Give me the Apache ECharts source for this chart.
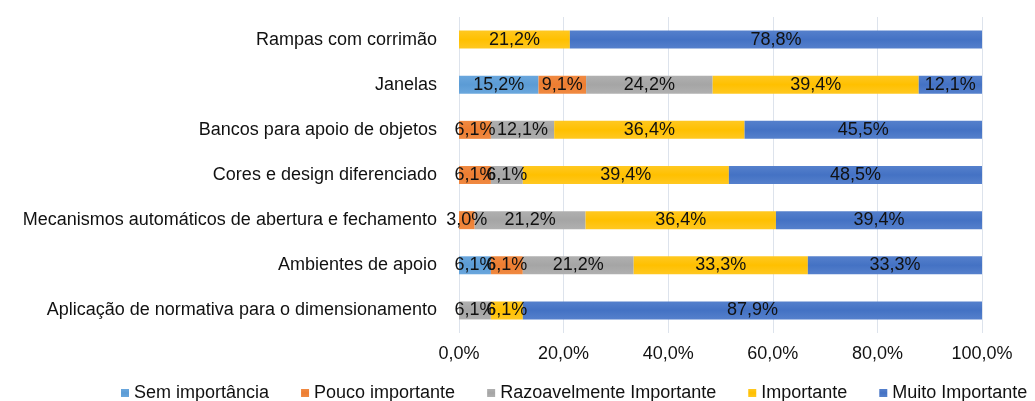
<!DOCTYPE html>
<html>
<head>
<meta charset="utf-8">
<script src="https://cdn.jsdelivr.net/npm/echarts@6/dist/echarts.min.js"></script>
<style>
  html, body { margin: 0; padding: 0; background: #fff; }
  #chart { width: 1035px; height: 401px; }
</style>
</head>
<body>
<div id="chart"></div>
<script>
// 类别（从上到下）
var categories = [
  'Rampas com corrimão',
  'Janelas',
  'Bancos para apoio de objetos',
  'Cores e design diferenciado',
  'Mecanismos automáticos de abertura e fechamento',
  'Ambientes de apoio',
  'Aplicação de normativa para o dimensionamento'
]
var semImportancia = [null, 15.2, null, null, null, 6.1, null]
var poucoImportante = [null, 9.1, 6.1, 6.1, 3.0, 6.1, null]
var razoavelmente = [null, 24.2, 12.1, 6.1, 21.2, 21.2, 6.1]
var importante = [21.2, 39.4, 36.4, 39.4, 36.4, 33.3, 6.1]
var muitoImportante = [78.8, 12.1, 45.5, 48.5, 39.4, 33.3, 87.9]
var xTicks = [0, 20, 40, 60, 80, 100]

function fmt(v) {
  return v.toFixed(1).replace('.', ',') + '%'
}

function grad(top, bottom) {
  return new echarts.graphic.LinearGradient(0, 0, 0, 1, [
    { offset: 0, color: top },
    { offset: 0.5, color: bottom },
    { offset: 1, color: top }
  ])
}

function makeSeries(name, data, c1, c2) {
  return {
    name: name,
    type: 'bar',
    stack: 'total',
    barWidth: 18,
    data: data,
    itemStyle: { color: grad(c1, c2) },
    label: {
      show: true,
      position: 'inside',
      color: '#111',
      fontSize: 18,
      fontFamily: 'Liberation Sans, Arial, sans-serif',
      formatter: function (p) {
        return p.value == null ? '' : fmt(p.value)
      }
    }
  }
}

var myChart = echarts.init(document.getElementById('chart'))
var option = {
  animation: false,
  color: ['#5B9BD5', '#ED7D31', '#A5A5A5', '#FFC000', '#4472C4'],
  textStyle: { fontFamily: 'Liberation Sans, Arial, sans-serif' },
  grid: {
    left: 459,
    right: 53,
    top: 17,
    bottom: 68
  },
  legend: {
    top: 384,
    left: 121,
    width: 1000,
    padding: 0,
    itemWidth: 8,
    itemHeight: 8,
    itemGap: 32,
    icon: 'rect',
    textStyle: { color: '#111', fontSize: 18 },
    data: ['Sem importância', 'Pouco importante', 'Razoavelmente Importante', 'Importante', 'Muito Importante']
  },
  xAxis: {
    type: 'value',
    min: xTicks[0],
    max: xTicks[xTicks.length - 1],
    interval: 20,
    axisLine: { show: false },
    axisTick: { show: false },
    splitLine: { show: true, lineStyle: { color: '#dde3ec', width: 1 } },
    axisLabel: {
      color: '#111',
      fontSize: 18,
      margin: 12,
      formatter: function (v) { return fmt(v) }
    }
  },
  yAxis: {
    type: 'category',
    inverse: true,
    data: categories,
    axisLine: { show: false },
    axisTick: { show: false },
    axisLabel: {
      color: '#111',
      fontSize: 18,
      margin: 22
    }
  },
  series: [
    makeSeries('Sem importância', semImportancia, '#6aa7dd', '#5B9BD5'),
    makeSeries('Pouco importante', poucoImportante, '#f08a42', '#ED7D31'),
    makeSeries('Razoavelmente Importante', razoavelmente, '#b0b0b0', '#A5A5A5'),
    makeSeries('Importante', importante, '#ffc821', '#FFC000'),
    makeSeries('Muito Importante', muitoImportante, '#5580cc', '#4472C4')
  ]
}
myChart.setOption(option)
</script>
</body>
</html>
